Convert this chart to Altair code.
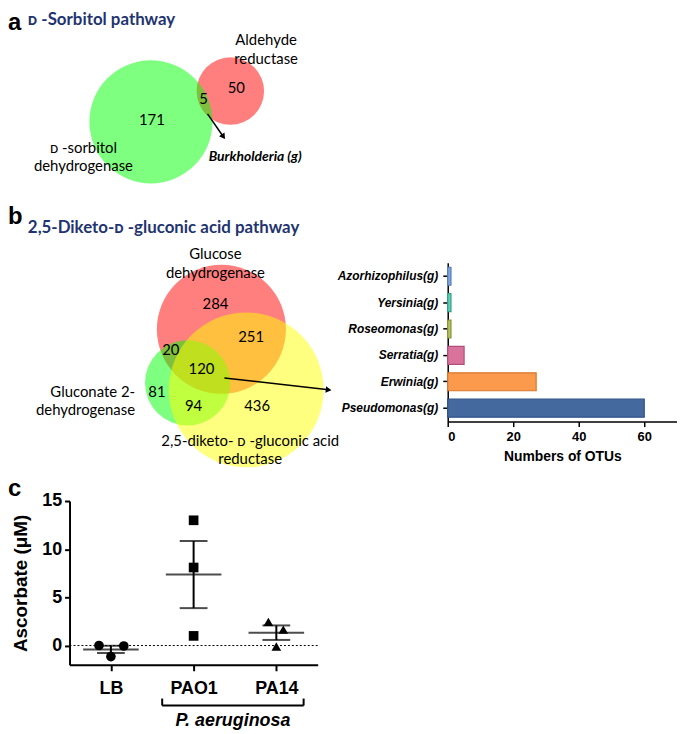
import altair as alt
import pandas as pd

# ---------------- data ----------------
# Panel a: Venn counts (D-sorbitol pathway)
a_count_text = ["50", "5", "171"]
# Panel b: Venn counts (2,5-diketo-D-gluconic acid pathway)
b_count_text = ["284", "251", "20", "120", "81", "94", "436"]

# Bar chart: genera among the 120 shared OTUs
bar_genera = ["Azorhizophilus(g)", "Yersinia(g)", "Roseomonas(g)",
              "Serratia(g)", "Erwinia(g)", "Pseudomonas(g)"]
bar_otus = [1, 1, 1, 5, 27, 60]
bar_fill = ["#7ea6dc", "#5ccfb6", "#b5c25f", "#d9739c", "#fb9a4c", "#43699f"]
bar_stroke = ["#5a7fb8", "#3a9f88", "#8a9438", "#b04f78", "#d8772e", "#2f5288"]

# Panel c: ascorbate measurements
c_groups = ["LB", "PAO1", "PA14"]
c_values = {
    "LB": [0.0, -0.05, -1.15],
    "PAO1": [13.0, 8.1, 1.0],
    "PA14": [2.45, 1.65, -0.1],
}
c_jitter = {"LB": [-12, 13, 0], "PAO1": [0, 0, 0], "PA14": [-8, 7, 0]}  # px
c_shapes = ["circle", "square", "triangle-up"]

# ---------------- layout (page-pixel frame for Venn diagrams) ----------------
X0, Y0 = 8, 8
W_VENN, H_VENN = 330, 462
xs = alt.Scale(domain=[X0, X0 + W_VENN], nice=False, zero=False)
ys = alt.Scale(domain=[Y0, Y0 + H_VENN], nice=False, zero=False, reverse=True)

circles = pd.DataFrame({
    "cx": [232, 152, 223, 189, 248],
    "cy": [89, 120, 329, 383, 390],
    "r": [34, 62, 65, 43, 78],
    "fill": ["#ff0000", "#00ff00", "#ff0000", "#00ff00", "#ffff00"],
    "o": [0, 1, 2, 3, 4],
})

numbers = pd.DataFrame({
    "t": a_count_text + b_count_text,
    "x": [238, 205, 153, 217, 253, 172, 203, 158, 195, 259],
    "y": [86, 97, 118, 304, 337, 350, 369, 392, 406, 406],
})

labels_center = pd.DataFrame({
    "t": ["Aldehyde", "reductase", "ᴅ -sorbitol", "dehydrogenase",
          "Glucose", "dehydrogenase", "2,5-diketo- ᴅ -gluconic acid", "reductase"],
    "x": [268, 268, 84, 84, 217, 217, 252, 252],
    "y": [38, 57, 146, 165, 253, 272, 442, 460],
})
labels_right = pd.DataFrame({
    "t": ["Gluconate 2-", "dehydrogenase"],
    "x": [136, 136],
    "y": [392, 410],
})
titles = pd.DataFrame({
    "t": ["ᴅ -Sorbitol pathway", "2,5-Diketo-ᴅ -gluconic acid pathway"],
    "x": [28, 28],
    "y": [17, 227],
})
letters_ab = pd.DataFrame({"t": ["a", "b"], "x": [8, 8], "y": [27, 223]})
genus_note = pd.DataFrame({"t": ["Burkholderia (g)"], "x": [257], "y": [155]})

arrows = pd.DataFrame({
    "x": [209, 226],
    "y": [112, 378],
    "x2": [225, 331],
    "y2": [135, 390],
})

def enc_xy(xf="x", yf="y"):
    return dict(x=alt.X(f"{xf}:Q", scale=xs, axis=None),
                y=alt.Y(f"{yf}:Q", scale=ys, axis=None))

circ_layer = alt.Chart(circles).transform_calculate(
    s="pow(2*datum.r, 2)"
).mark_circle(opacity=0.5).encode(
    **enc_xy("cx", "cy"),
    size=alt.Size("s:Q", scale=None),
    color=alt.Color("fill:N", scale=None),
    order=alt.Order("o:Q"),
)

def text_layer(df, baseline="middle", **kw):
    return alt.Chart(df).mark_text(baseline=baseline, **kw).encode(
        **enc_xy(), text="t:N")

num_layer = text_layer(numbers, font="Lato", fontSize=15, color="black", align="center")
lab_c_layer = text_layer(labels_center, font="Lato", fontSize=15, color="black", align="center")
lab_r_layer = text_layer(labels_right, font="Lato", fontSize=15, color="black", align="right")
title_layer = text_layer(titles, font="Lato", fontSize=17, fontWeight="bold",
                         color="#1f3470", align="left")
letter_layer = text_layer(letters_ab, baseline="alphabetic", font="Liberation Sans",
                          fontSize=24, fontWeight="bold", color="black", align="left")
genus_layer = text_layer(genus_note, font="Lato", fontSize=14, fontWeight="bold",
                         fontStyle="italic", color="black", align="center")

arrow_line = alt.Chart(arrows).mark_rule(color="black", strokeWidth=1.5).encode(
    x=alt.X("x:Q", scale=xs, axis=None), y=alt.Y("y:Q", scale=ys, axis=None),
    x2="x2:Q", y2="y2:Q")
arrow_head = alt.Chart(arrows).transform_calculate(
    ang="(atan2(datum.x2 - datum.x, -(datum.y2 - datum.y)) * 180 / PI + 360) % 360"
).mark_point(shape="triangle-up", filled=True, size=45, color="black", opacity=1).encode(
    **enc_xy("x2", "y2"), angle=alt.Angle("ang:Q", scale=None))

venn = alt.layer(circ_layer, num_layer, lab_c_layer, lab_r_layer, title_layer,
                 letter_layer, genus_layer, arrow_line, arrow_head).properties(
    width=W_VENN, height=H_VENN)

# ---------------- bar chart ----------------
bars_df = pd.DataFrame({"genus": bar_genera, "otus": bar_otus,
                        "fill": bar_fill, "stroke": bar_stroke})
bars = alt.Chart(bars_df).mark_bar(strokeWidth=1.2).encode(
    x=alt.X("otus:Q", scale=alt.Scale(domain=[0, 70], nice=False),
            axis=alt.Axis(values=[0, 20, 40, 60], title="Numbers of OTUs", grid=False,
                          labelFont="Liberation Sans", labelFontSize=13, labelFontWeight="bold",
                          labelColor="black", titleFont="Liberation Sans", titleFontSize=14,
                          titleFontWeight="bold", titleColor="black", titlePadding=6,
                          domainColor="black", domainWidth=1.5, tickColor="black",
                          tickWidth=1.5, tickSize=5, labelPadding=4)),
    y=alt.Y("genus:N", sort=bar_genera,
            scale=alt.Scale(paddingInner=0.32, paddingOuter=0.17),
            axis=alt.Axis(title=None, labelFont="Liberation Sans", labelFontSize=12,
                          labelFontWeight="bold", labelFontStyle="italic", labelColor="black",
                          domainColor="black", domainWidth=1.5, tickColor="black",
                          tickWidth=1.5, tickSize=5, labelPadding=5, labelLimit=200)),
    color=alt.Color("fill:N", scale=None),
    stroke=alt.Stroke("stroke:N", scale=None),
).properties(width=231, height=160)

def spacer(w, h):
    return alt.Chart(pd.DataFrame({"v": [0]})).mark_point(opacity=0).encode(
        x=alt.X("v:Q", axis=None), y=alt.Y("v:Q", axis=None)).properties(width=w, height=h)

bar_col = alt.vconcat(spacer(1, 254), bars, spacing=0, bounds="flush")
row1 = alt.hconcat(venn, bar_col, spacing=113, bounds="flush")

# ---------------- panel c ----------------
C_W, C_H = 250, 165
px_per_unit = C_W / len(c_groups)
rows = []
for i, g in enumerate(c_groups):
    for v, j in zip(c_values[g], c_jitter[g]):
        rows.append({"grp": g, "pos": i + 0.5, "xp": i + 0.5 + j / px_per_unit, "val": v})
c_df = pd.DataFrame(rows)

label_expr = "[" + ",".join(f"'{g}'" for g in c_groups) + "][floor(datum.value)]"
cx_scale = alt.Scale(domain=[0, 3], nice=False, zero=False)
cy_scale = alt.Scale(domain=[-2, 15], nice=False, zero=False)

x_axis_c = alt.Axis(values=[0.5, 1.5, 2.5], labelExpr=label_expr, title=None, grid=False,
                    labelFont="Liberation Sans", labelFontSize=18, labelFontWeight="bold",
                    labelColor="black", domainColor="black", domainWidth=2,
                    tickColor="black", tickWidth=2, tickSize=6, labelPadding=9)
y_axis_c = alt.Axis(values=[0, 5, 10, 15], title="Ascorbate (μM)", grid=False,
                    labelFont="Liberation Sans", labelFontSize=18, labelFontWeight="bold",
                    labelColor="black", titleFont="Liberation Sans", titleFontSize=19,
                    titleFontWeight="bold", titleColor="black", titlePadding=11,
                    domainColor="black", domainWidth=2, tickColor="black", tickWidth=2,
                    tickSize=5, labelPadding=3)

base_c = alt.Chart(c_df)
pts = base_c.mark_point(filled=True, size=95, color="black", opacity=1).encode(
    x=alt.X("xp:Q", scale=cx_scale, axis=x_axis_c),
    y=alt.Y("val:Q", scale=cy_scale, axis=y_axis_c),
    shape=alt.Shape("grp:N", scale=alt.Scale(domain=c_groups, range=c_shapes), legend=None),
)
summ = base_c.transform_aggregate(
    mean="mean(val)", se="stderr(val)", groupby=["grp", "pos"]
).transform_calculate(lo="datum.mean - datum.se", hi="datum.mean + datum.se")
mean_tick = summ.mark_tick(orient="horizontal", size=56, thickness=2, color="black").encode(
    x=alt.X("pos:Q", scale=cx_scale), y=alt.Y("mean:Q", scale=cy_scale))
lo_tick = summ.mark_tick(orient="horizontal", size=28, thickness=2, color="black").encode(
    x=alt.X("pos:Q", scale=cx_scale), y=alt.Y("lo:Q", scale=cy_scale))
hi_tick = summ.mark_tick(orient="horizontal", size=28, thickness=2, color="black").encode(
    x=alt.X("pos:Q", scale=cx_scale), y=alt.Y("hi:Q", scale=cy_scale))
err_rule = summ.mark_rule(strokeWidth=2, color="black").encode(
    x=alt.X("pos:Q", scale=cx_scale), y=alt.Y("lo:Q", scale=cy_scale), y2="hi:Q")
zero_line = alt.Chart(pd.DataFrame({"z": [0]})).mark_rule(
    strokeDash=[2, 2], strokeWidth=1, color="black").encode(
    y=alt.Y("z:Q", scale=cy_scale), x=alt.value(0), x2=alt.value(C_W))

bracket = pd.DataFrame({"x": [1.12], "x2": [2.83]})
br_h = alt.Chart(bracket).mark_rule(strokeWidth=2, color="black").encode(
    x=alt.X("x:Q", scale=cx_scale), x2="x2:Q", y=alt.value(206))
br_ends = alt.Chart(pd.DataFrame({"x": [1.12, 2.83]})).mark_rule(
    strokeWidth=2, color="black").encode(
    x=alt.X("x:Q", scale=cx_scale), y=alt.value(199), y2=alt.value(206))
br_text = alt.Chart(pd.DataFrame({"x": [1.975], "t": ["P. aeruginosa"]})).mark_text(
    font="Liberation Sans", fontSize=18, fontWeight="bold", fontStyle="italic",
    color="black", baseline="middle").encode(
    x=alt.X("x:Q", scale=cx_scale), y=alt.value(222), text="t:N")
c_letter = alt.Chart(pd.DataFrame({"t": ["c"]})).mark_text(
    font="Liberation Sans", fontSize=24, fontWeight="bold", color="black",
    align="left", baseline="alphabetic").encode(
    x=alt.value(-62), y=alt.value(-5), text="t:N")

panel_c = alt.layer(zero_line, pts, err_rule, mean_tick, lo_tick, hi_tick,
                    br_h, br_ends, br_text, c_letter).properties(width=C_W, height=C_H)

row2 = alt.hconcat(spacer(62, 1), panel_c, spacing=0, bounds="flush")

chart = alt.vconcat(row1, row2, spacing=8).properties(
    padding=0, background="white"
).configure_view(strokeWidth=0)

chart.save("out.html", embed_options={"renderer": "svg", "actions": False})
